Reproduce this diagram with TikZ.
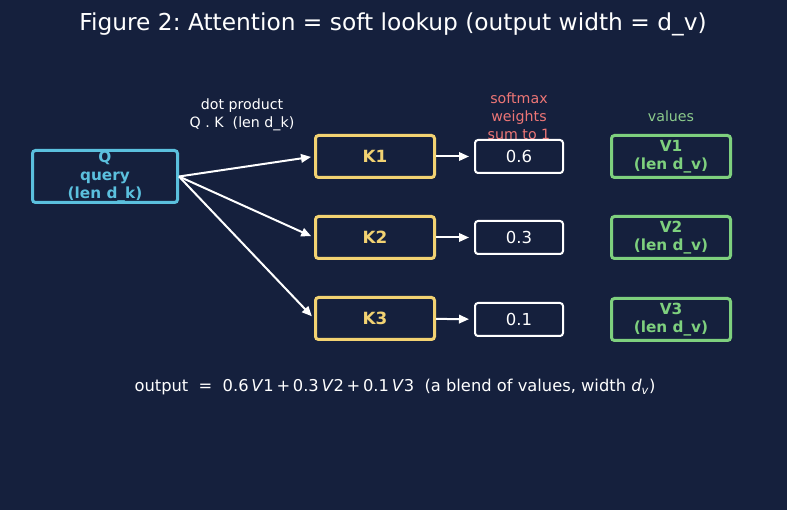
\documentclass[tikz,border=0pt]{standalone}
\usepackage{fontspec}
\setmainfont{DejaVu Sans}
\frenchspacing
\usetikzlibrary{arrows.meta,positioning}
\definecolor{bgnavy}{HTML}{15203D}
\definecolor{qcyan}{HTML}{5BC0DE}
\definecolor{kyellow}{HTML}{F2D272}
\definecolor{vgreen}{HTML}{7ED07E}
\definecolor{lblgreen}{HTML}{8CCB8C}
\definecolor{lblred}{HTML}{EE7676}
\tikzset{
	x=1pt, y=-1pt,
	node distance=36pt,
	box/.style = {draw, rounded corners=3pt, line width=3pt, fill=bgnavy,
		inner sep=0pt, align=center},
	qbox/.style = {box, draw=qcyan, text=qcyan, minimum width=145pt, minimum height=52pt,
		font=\bfseries\fontsize{15.3}{18}\selectfont},
	kbox/.style = {box, draw=kyellow, text=kyellow, minimum width=119pt, minimum height=42pt,
		font=\bfseries\fontsize{16.8}{19}\selectfont},
	wbox/.style = {box, draw=white, text=white, line width=2pt, minimum width=88pt,
		minimum height=33pt, font=\fontsize{16.5}{19}\selectfont},
	vbox/.style = {box, draw=vgreen, text=vgreen, minimum width=119pt, minimum height=42pt,
		font=\bfseries\fontsize{15.3}{18}\selectfont},
	lbl/.style = {align=center, inner sep=0pt, font=\fontsize{14.2}{17.8}\selectfont},
	arr/.style = {-{Triangle[length=10pt,width=8.5pt]}, white, line width=2pt, shorten >=3pt}
}
\begin{document}
\begin{tikzpicture}
	\fill[bgnavy] (0,0) rectangle (787,510);
	\useasboundingbox (0,0) rectangle (787,510);
	% title
	\node[text=white, font=\fontsize{23.3}{27}\selectfont] (title) at (393,24)
		{Figure 2: Attention = soft lookup (output width = d\_v)};
	% labels above the columns
	\node[lbl, text=white] (dot) at (242,115) {dot product\\Q . K\ \ (len d\_k)};
	\node[lbl, text=lblred] (soft) at (519,116) {softmax\\weights\\sum to 1};
	\node[lbl, text=lblgreen] (vals) at (671,116) {values};
	% query
	\node[qbox] (q) at (105,176.5) {Q\\query\\(len d\_k)};
	% keys
	\node[kbox] (k1) at (375,156.5) {K1};
	\node[kbox] (k2) [below=of k1] {K2};
	\node[kbox] (k3) [below=of k2] {K3};
	% weights
	\node[wbox] (w1) at (519,156.5) {0.6};
	\node[wbox] (w2) at (519,237.5) {0.3};
	\node[wbox] (w3) at (519,319.5) {0.1};
	% values
	\node[vbox] (v1) at (671,156.5) {V1\\(len d\_v)};
	\node[vbox] (v2) at (671,237.5) {V2\\(len d\_v)};
	\node[vbox] (v3) at (671,319.5) {V3\\(len d\_v)};
	% arrows
	\draw[arr] (q.east) -- (k1.west);
	\draw[arr] (q.east) -- (k2.west);
	\draw[arr] (q.east) -- (k3.west);
	\draw[arr, shorten >=5pt] (k1) -- (w1);
	\draw[arr, shorten >=5pt] (k2) -- (w2);
	\draw[arr, shorten >=5pt] (k3) -- (w3);
	% output line
	\node[text=white, font=\fontsize{16.3}{20}\selectfont] (out) at (395,387)
		{output\ \ =\ \ 0.6\,\textit{V}1\,+\,0.3\,\textit{V}2\,+\,0.1\,\textit{V}3\ \ (a blend of values, width \textit{d}\textsubscript{\textit{v}})};
\end{tikzpicture}
\end{document}
